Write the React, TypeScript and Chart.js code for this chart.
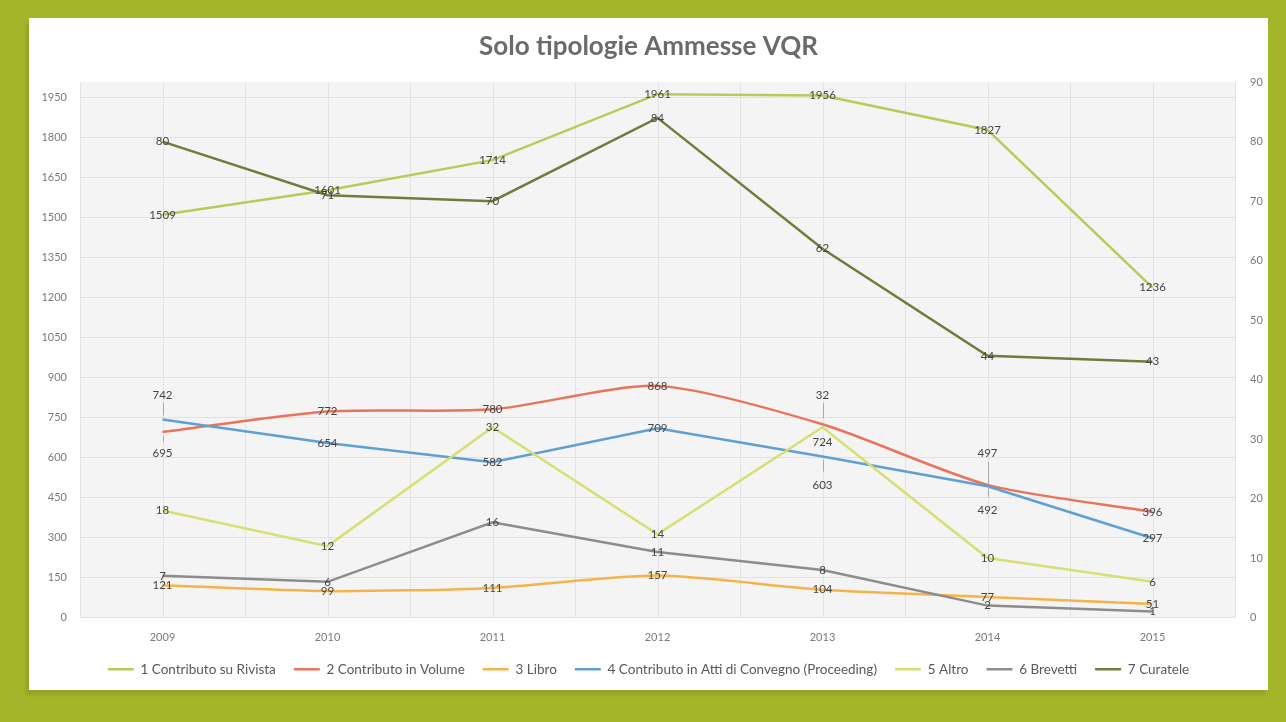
import React, { useEffect, useRef } from 'react';
import { Chart, registerables } from 'chart.js';

Chart.register(...registerables);

// ---------- data ----------
const years = ['2009', '2010', '2011', '2012', '2013', '2014', '2015'];
const rivista = [1509, 1601, 1714, 1961, 1956, 1827, 1236];
const volume = [695, 772, 780, 868, 724, 497, 396];
const libro = [121, 99, 111, 157, 104, 77, 51];
const convegno = [742, 654, 582, 709, 603, 492, 297];
const altro = [18, 12, 32, 14, 32, 10, 6];
const brevetti = [7, 6, 16, 11, 8, 2, 1];
const curatele = [80, 71, 70, 84, 62, 44, 43];

const seriesNames = [
  '1 Contributo su Rivista',
  '2 Contributo in Volume',
  '3 Libro',
  '4 Contributo in Atti di Convegno (Proceeding)',
  '5 Altro',
  '6 Brevetti',
  '7 Curatele',
];
const leftTicks = [0, 150, 300, 450, 600, 750, 900, 1050, 1200, 1350, 1500, 1650, 1800, 1950];
const rightTicks = [0, 10, 20, 30, 40, 50, 60, 70, 80, 90];
const titleText = 'Solo tipologie Ammesse VQR';

// ---------- styles ----------
const colors = ['#b5cc5a', '#e8745c', '#f5b44a', '#5f9fd2', '#d7df72', '#8c8c8c', '#6e7d3b'];
const axisIds = ['y', 'y', 'y', 'y', 'y1', 'y1', 'y1'];
const tensions = [0, 0.25, 0.25, 0, 0, 0, 0];
const seriesData = [rivista, volume, libro, convegno, altro, brevetti, curatele];

// label placement tweaks: key = "dataset-index"
const labelTweaks: Record<string, { dy: number; leader?: [number, number] }> = {
  '1-0': { dy: 21, leader: [4, 10] },
  '3-0': { dy: -24, leader: [-17, -4] },
  '1-4': { dy: 18 },
  '4-4': { dy: -32, leader: [-24, -9] },
  '3-4': { dy: 29, leader: [3, 15] },
  '1-5': { dy: -32, leader: [-23, 0] },
  '3-5': { dy: 24, leader: [0, 11] },
};

const FONT = 'Lato';

const plotBg = {
  id: 'plotBg',
  beforeDraw(chart: any) {
    const { ctx, chartArea } = chart;
    const { left, top, right, bottom } = chartArea;
    const x = chart.scales.x;
    ctx.save();
    ctx.fillStyle = '#f4f4f4';
    ctx.fillRect(left, top, right - left, bottom - top);
    ctx.strokeStyle = '#e3e3e3';
    ctx.lineWidth = 1;
    const step = x.getPixelForValue(1) - x.getPixelForValue(0);
    const xs: number[] = [];
    for (let i = 0; i < years.length; i++) {
      const p = x.getPixelForValue(i);
      xs.push(p - step / 2, p);
      if (i === years.length - 1) xs.push(p + step / 2);
    }
    xs.forEach((p) => {
      const px = Math.round(p) + 0.5;
      ctx.beginPath();
      ctx.moveTo(px, top);
      ctx.lineTo(px, bottom);
      ctx.stroke();
    });
    ctx.restore();
  },
};

const dataLabels = {
  id: 'dataLabels',
  afterDatasetsDraw(chart: any) {
    const { ctx } = chart;
    ctx.save();
    ctx.font = `11.5px ${FONT}`;
    ctx.fillStyle = '#454545';
    ctx.textAlign = 'center';
    ctx.textBaseline = 'middle';
    chart.data.datasets.forEach((ds: any, di: number) => {
      const meta = chart.getDatasetMeta(di);
      meta.data.forEach((pt: any, i: number) => {
        const tw = labelTweaks[`${di}-${i}`];
        const dy = tw ? tw.dy : 0;
        if (tw && tw.leader) {
          ctx.strokeStyle = '#a9a9a9';
          ctx.lineWidth = 1;
          ctx.beginPath();
          ctx.moveTo(Math.round(pt.x) + 0.5, pt.y + tw.leader[0]);
          ctx.lineTo(Math.round(pt.x) + 0.5, pt.y + tw.leader[1]);
          ctx.stroke();
        }
        ctx.fillText(String(ds.data[i]), pt.x, pt.y + dy);
      });
    });
    ctx.restore();
  },
};

export default function App() {
  const ref = useRef<HTMLCanvasElement>(null);

  useEffect(() => {
    const datasets = seriesData.map((d, i) => ({
      label: seriesNames[i],
      data: d,
      yAxisID: axisIds[i],
      borderColor: colors[i],
      backgroundColor: colors[i],
      borderWidth: 2.5,
      pointRadius: 0,
      pointHoverRadius: 0,
      tension: tensions[i],
      order: seriesData.length - i,
      fill: false,
    }));

    const tickFont = { family: FONT, size: 11 };
    const plain = (v: any) => String(v);
    const chart = new Chart(ref.current as HTMLCanvasElement, {
      type: 'line',
      data: { labels: years, datasets },
      options: {
        responsive: false,
        maintainAspectRatio: false,
        animation: false,
        layout: { padding: { top: 0, bottom: 4, left: 0, right: 0 } },
        plugins: {
          title: {
            display: true,
            text: titleText,
            color: '#6b6b6b',
            font: { family: FONT, size: 26, weight: 'bold' },
            padding: { top: 13, bottom: 20 },
          },
          legend: {
            position: 'bottom',
            labels: {
              usePointStyle: true,
              pointStyle: 'line',
              pointStyleWidth: 26,
              color: '#595959',
              font: { family: FONT, size: 13.5 },
              padding: 18,
              sort: (a: any, b: any) => a.datasetIndex - b.datasetIndex,
            },
          },
          tooltip: { enabled: false },
        },
        scales: {
          x: {
            type: 'category',
            offset: true,
            grid: { display: false, drawTicks: false },
            border: { display: false },
            ticks: { color: '#7a7a7a', font: tickFont, padding: 13, maxRotation: 0 },
            afterFit(s: any) {
              s.height = 27;
            },
          },
          y: {
            position: 'left',
            min: 0,
            max: 2006,
            afterBuildTicks(s: any) {
              s.ticks = leftTicks.map((v) => ({ value: v }));
            },
            grid: { color: '#e2e2e2', drawTicks: false },
            border: { display: false },
            ticks: { color: '#7a7a7a', font: tickFont, padding: 13, callback: plain },
            afterFit(s: any) {
              s.width = 51;
            },
          },
          y1: {
            position: 'right',
            min: 0,
            max: 90,
            afterBuildTicks(s: any) {
              s.ticks = rightTicks.map((v) => ({ value: v }));
            },
            grid: { display: false, drawTicks: false },
            border: { display: false },
            ticks: { color: '#7a7a7a', font: tickFont, padding: 15, callback: plain },
            afterFit(s: any) {
              s.width = 33;
            },
          },
        },
      },
      plugins: [plotBg, dataLabels],
    } as any);
    return () => chart.destroy();
  }, []);

  return (
    <div
      style={{
        position: 'fixed',
        left: 0,
        top: 0,
        width: 1286,
        height: 722,
        background: '#a4b52a',
        overflow: 'hidden',
      }}
    >
      <div
        style={{
          position: 'absolute',
          left: 29,
          top: 18,
          width: 1239,
          height: 672,
          background: '#ffffff',
          boxShadow: '-3px 5px 3px rgba(0,0,0,0.10)',
        }}
      >
        <canvas ref={ref} width={1239} height={672} style={{ display: 'block', width: 1239, height: 672 }} />
      </div>
    </div>
  );
}
